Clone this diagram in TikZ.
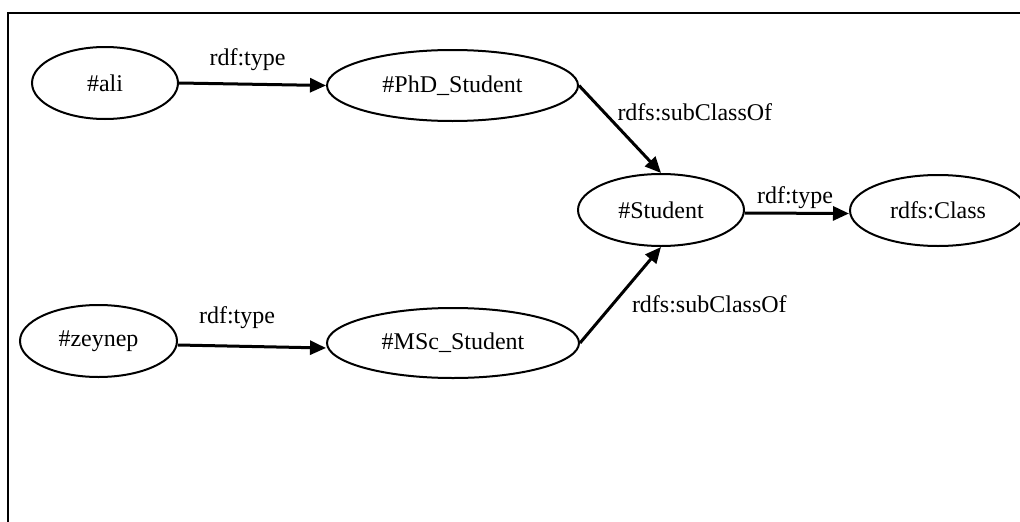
\documentclass[tikz,border=0pt]{standalone}
\usepackage{fontspec}
\setmainfont{Liberation Serif}
\usetikzlibrary{shapes.geometric,arrows.meta}
\begin{document}
\begin{tikzpicture}[x=1pt,y=-1pt,
  every node/.style={font=\fontsize{24}{28}\selectfont},
  res/.style={ellipse,draw,line width=2pt,inner sep=0pt},
  rel/.style={line width=3pt,-{Triangle[length=16pt,width=14pt]}},
  lbl/.style={inner sep=0pt,anchor=base}]
\useasboundingbox (0,0) rectangle (1020,522);
% open frame: top and left edges only
\draw[line width=2.7pt] (8,522) -- (8,13) -- (1022,13);

% resources
\node[res,minimum width=146pt,minimum height=72pt] (ali) at (105,83) {\#ali};
\node[res,minimum width=251pt,minimum height=71pt] (phd) at (452.5,85.5) {\#PhD\_Student};
\node[res,minimum width=157pt,minimum height=72pt] (zey) at (98.5,341) {\#zeynep};
\node[res,minimum width=252pt,minimum height=70pt] (msc) at (453,343) {\#MSc\_Student};
\node[res,minimum width=166pt,minimum height=72pt] (stu) at (661,210) {\#Student};
\node[res,minimum width=176pt,minimum height=71pt] (cls) at (938,210.5) {rdfs:Class};

% statements
\draw[rel] (ali.east) -- (phd.west)
  node[lbl,midway,xshift=-5pt,yshift=19pt] {rdf:type};
\draw[rel] ([yshift=-4pt]zey.east) -- ([yshift=-5pt]msc.west)
  node[lbl,midway,xshift=-15pt,yshift=23pt] {rdf:type};
\draw[rel] (phd.east) -- (stu.north)
  node[lbl,anchor=base west,midway,xshift=-4pt,yshift=9pt] {rdfs:subClassOf};
\draw[rel] (msc.east) -- (stu.south)
  node[lbl,anchor=base west,midway,xshift=10pt,yshift=-17.5pt] {rdfs:subClassOf};
\draw[rel] ([yshift=-3pt]stu.east) -- ([yshift=-3pt]cls.west)
  node[lbl,midway,xshift=-2pt,yshift=10pt] {rdf:type};
\end{tikzpicture}
\end{document}
